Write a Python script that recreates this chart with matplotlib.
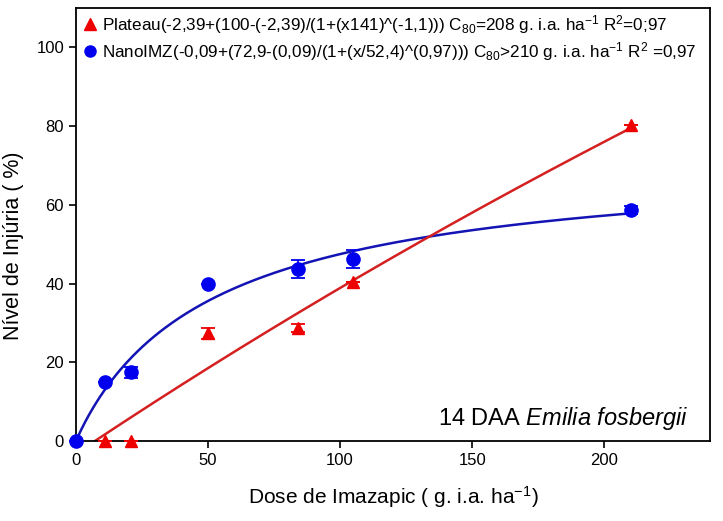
import numpy as np
import matplotlib
matplotlib.use("Agg")
import matplotlib.pyplot as plt
from matplotlib.lines import Line2D

plt.rcParams['font.family'] = ['Liberation Sans', 'DejaVu Sans']
plt.rcParams['mathtext.fontset'] = 'custom'
plt.rcParams['mathtext.rm'] = 'Liberation Sans'
plt.rcParams['mathtext.it'] = 'Liberation Sans:italic'
plt.rcParams['mathtext.default'] = 'regular'

# Plateau (triângulos vermelhos)
dose_plateau = [11, 21, 50, 84, 105, 210]
inj_plateau = [0, 0, 27.4, 28.8, 40.3, 80.2]
err_plateau = [0, 0, 1.4, 1.0, 0, 0]

# NanoIMZ (círculos azuis)
dose_nano = [0, 11, 21, 50, 84, 105, 210]
inj_nano = [0, 14.9, 17.4, 40.0, 43.7, 46.3, 58.7]
err_nano = [0, 0, 1.4, 0, 2.4, 2.3, 1.0]

# parâmetros das curvas ajustadas
nano_a, nano_b, nano_c, nano_d = -0.09, 72.9, 52.4, 0.97
plat_a, plat_b, plat_c = -3.22, 673.6, 1500.0
plat_x0, x_max = 7.2, 210

label_plateau = ("Plateau(-2,39+(100-(-2,39)/(1+(x141)^(-1,1))) "
                 "C$_{80}$=208 g. i.a. ha$^{-1}$ R$^{2}$=0;97")
label_nano = ("NanoIMZ(-0,09+(72,9-(0,09)/(1+(x/52,4)^(0,97))) "
              "C$_{80}$>210 g. i.a. ha$^{-1}$ R$^{2}$ =0,97")

red_pt, red_ln = '#EE0000', '#D42020'
blue_pt, blue_ln = '#0000EE', '#1414B4'

fig = plt.figure(figsize=(7.23, 5.21), dpi=100)
ax = fig.add_axes([0.105, 0.1536, 0.877, 0.831])

# curvas
xn = np.linspace(0.01, x_max, 300)
yn = nano_a + (nano_b - nano_a) / (1 + (xn / nano_c) ** (-nano_d))
ax.plot(xn, yn, color=blue_ln, lw=1.8, zorder=2)

xp = np.linspace(plat_x0, x_max, 300)
yp = plat_a + plat_b * xp / (xp + plat_c)
ax.plot(xp, yp, color=red_ln, lw=1.8, zorder=2)

# pontos com barras de erro
ax.errorbar(dose_plateau, inj_plateau, yerr=err_plateau, fmt='^', color=red_pt,
            ms=9, capsize=5, elinewidth=1.3, capthick=1.3, clip_on=False, zorder=3)
ax.errorbar(dose_nano, inj_nano, yerr=err_nano, fmt='o', color=blue_pt,
            ms=9.5, capsize=5, elinewidth=1.3, capthick=1.3, clip_on=False, zorder=4)

ax.set_xlim(0, 240)
ax.set_ylim(0, 110)
ax.set_xticks(np.arange(0, 201, 50))
ax.set_yticks(np.arange(0, 101, 20))
ax.tick_params(axis='both', direction='out', length=5, width=1.2, labelsize=12,
               top=False, right=False)
for sp in ax.spines.values():
    sp.set_linewidth(1.3)

ax.set_xlabel('Dose de Imazapic ( g. i.a. ha$^{-1}$)', fontsize=15, labelpad=12)
ax.set_ylabel('Nível de Injúria ( %)', fontsize=15.5, labelpad=8)
ax.yaxis.set_label_coords(-0.082, 0.45)

ax.text(0.966, 0.02, '14 DAA $\\mathit{Emilia\\ fosbergii}$', transform=ax.transAxes,
        ha='right', va='bottom', fontsize=17)

handles = [
    Line2D([], [], ls='none', marker='^', color=red_pt, ms=8),
    Line2D([], [], ls='none', marker='o', color=blue_pt, ms=8),
]
ax.legend(handles, [label_plateau, label_nano], loc='upper left', frameon=False,
          fontsize=12.3, handletextpad=0.2, handlelength=1.0, labelspacing=0.22,
          borderaxespad=0.1, borderpad=0.2)

fig.savefig('out.png', dpi=100)
